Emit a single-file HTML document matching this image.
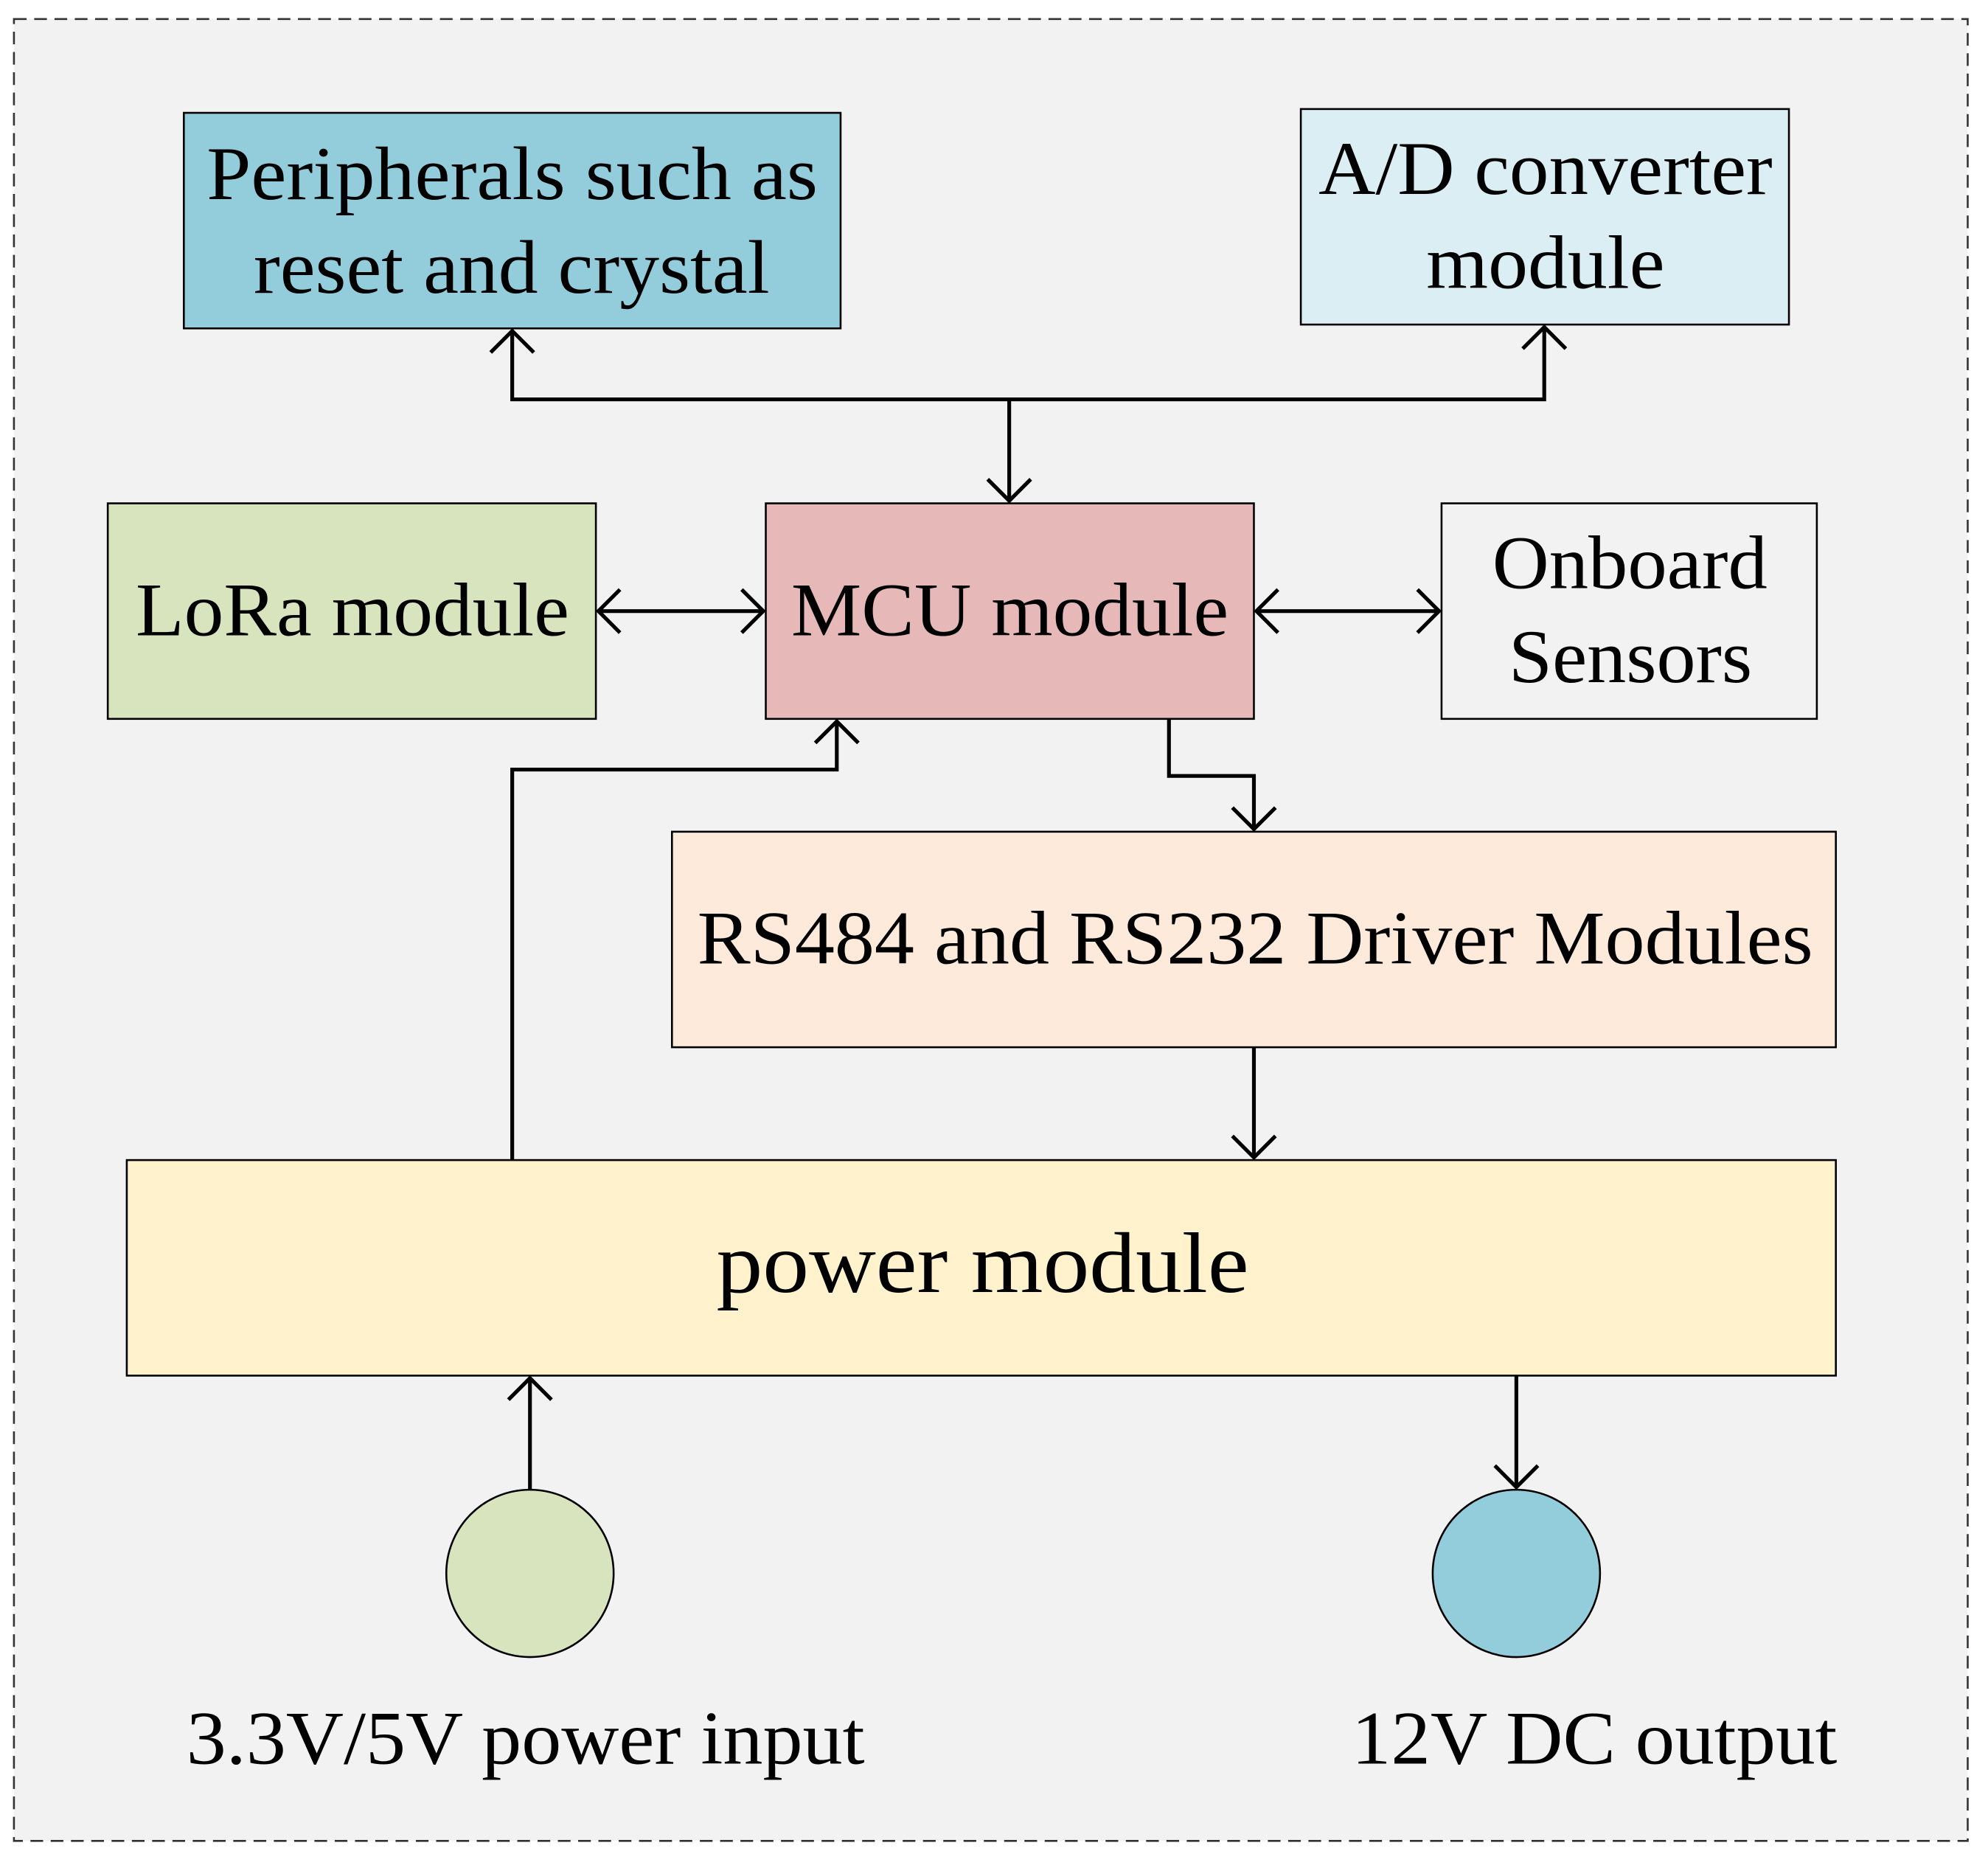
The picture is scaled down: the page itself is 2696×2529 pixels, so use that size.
<!DOCTYPE html>
<html><head><meta charset="utf-8"><style>
html,body{margin:0;padding:0;background:#fff;}
svg{display:block;}
text{font-family:"Liberation Serif",serif;fill:#000;}
</style></head><body>
<svg width="2696" height="2529" viewBox="0 0 1568 1471" preserveAspectRatio="none" xmlns="http://www.w3.org/2000/svg">
<rect x="0" y="0" width="1568" height="1471" fill="#fff"/>
<rect x="11" y="15" width="1541" height="1437" fill="#f2f2f2" stroke="#333" stroke-width="1.5" stroke-dasharray="10,6"/>
<g stroke="#000" stroke-width="1.5">
<rect x="145" y="89" width="518" height="170" fill="#93cddb"/>
<rect x="1026" y="86" width="385" height="170" fill="#dbeef3"/>
<rect x="85" y="397" width="385" height="170" fill="#d7e4bd"/>
<rect x="604" y="397" width="385" height="170" fill="#e6b9b8"/>
<rect x="1137" y="397" width="296" height="170" fill="#f2f2f2"/>
<rect x="530" y="656" width="918" height="170" fill="#fdeada"/>
<rect x="100" y="915" width="1348" height="170" fill="#fff2cc"/>
<circle cx="418" cy="1241" r="66" fill="#d7e4bd"/>
<circle cx="1196" cy="1241" r="66" fill="#93cddb"/>
</g>
<g fill="none" stroke="#000" stroke-width="3">
<polyline points="404,261 404,315 1218,315 1218,258"/>
<polyline points="387,278 404,261 421,278"/>
<polyline points="1201,275 1218,258 1235,275"/>
<line x1="796" y1="315" x2="796" y2="395"/>
<polyline points="779,378 796,395 813,378"/>
<line x1="472" y1="482" x2="602" y2="482"/>
<polyline points="489,465 472,482 489,499"/>
<polyline points="585,465 602,482 585,499"/>
<line x1="991" y1="482" x2="1135" y2="482"/>
<polyline points="1008,465 991,482 1008,499"/>
<polyline points="1118,465 1135,482 1118,499"/>
<polyline points="922,567 922,612 989,612 989,654"/>
<polyline points="972,637 989,654 1006,637"/>
<polyline points="404,915 404,607 660,607 660,569"/>
<polyline points="643,586 660,569 677,586"/>
<line x1="989" y1="826" x2="989" y2="913"/>
<polyline points="972,896 989,913 1006,896"/>
<line x1="418" y1="1175" x2="418" y2="1087"/>
<polyline points="401,1104 418,1087 435,1104"/>
<line x1="1196" y1="1085" x2="1196" y2="1173"/>
<polyline points="1179,1156 1196,1173 1213,1156"/>
</g>
<g font-size="60" lengthAdjust="spacingAndGlyphs">
<text x="163" y="157" textLength="482" lengthAdjust="spacingAndGlyphs">Peripherals such as</text>
<text x="200" y="231" textLength="407" lengthAdjust="spacingAndGlyphs">reset and crystal</text>
<text x="1040" y="153" textLength="358" lengthAdjust="spacingAndGlyphs">A/D converter</text>
<text x="1125" y="227" textLength="188" lengthAdjust="spacingAndGlyphs">module</text>
<text x="107" y="501" textLength="342" lengthAdjust="spacingAndGlyphs">LoRa module</text>
<text x="624" y="501" textLength="345" lengthAdjust="spacingAndGlyphs">MCU module</text>
<text x="1177" y="464" textLength="217" lengthAdjust="spacingAndGlyphs">Onboard</text>
<text x="1190" y="538" textLength="192" lengthAdjust="spacingAndGlyphs">Sensors</text>
<text x="550" y="760" textLength="880" lengthAdjust="spacingAndGlyphs">RS484 and RS232 Driver Modules</text>
<text x="565" y="1019" font-size="68" textLength="420" lengthAdjust="spacingAndGlyphs">power module</text>
<text x="147" y="1391" textLength="535" lengthAdjust="spacingAndGlyphs">3.3V/5V power input</text>
<text x="1066" y="1391" textLength="383" lengthAdjust="spacingAndGlyphs">12V DC output</text>
</g>
</svg>
</body></html>
